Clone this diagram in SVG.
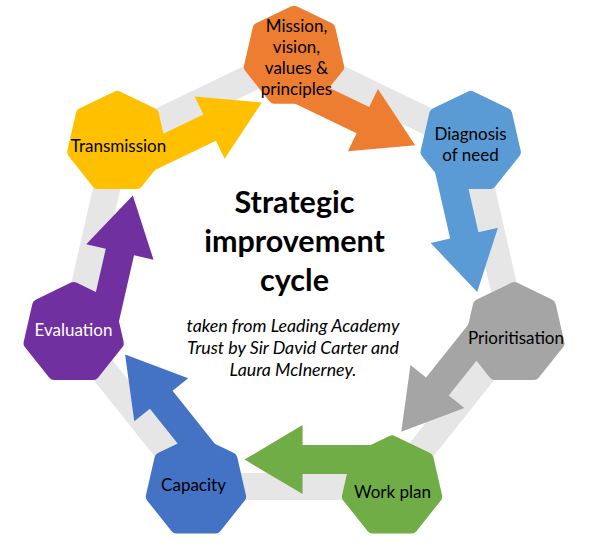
<svg xmlns="http://www.w3.org/2000/svg" xmlns:xlink="http://www.w3.org/1999/xlink" width="599" height="559" viewBox="0 0 599 559">
  <style>
    .lbl { font-family: Lato, "Liberation Sans", sans-serif; font-size: 17px; fill: #000; text-anchor: middle; }
    .title { font-family: Lato, "Liberation Sans", sans-serif; font-size: 30.5px; font-weight: bold; fill: #000; text-anchor: middle; }
    .note { font-family: Lato, "Liberation Sans", sans-serif; font-size: 17.8px; font-style: italic; fill: #000; text-anchor: middle; }
    .ring { fill: none; stroke: #E7E6E6; stroke-width: 27; stroke-linejoin: round; }
    .node { stroke-width: 12; stroke-linejoin: round; }
  </style>
  <defs>
    <polygon id="hept" points="0,-45.3 35.42,-28.24 44.16,10.08 19.65,40.81 -19.65,40.81 -44.16,10.08 -35.42,-28.24"/>
    <polygon id="arrow" points="0,12.5 89.5,12.5 89.5,-7.5 147.5,27 89.5,61.5 89.5,41.5 0,41.5" transform="translate(294,57) rotate(25.714)"/>
  </defs>
  <rect width="599" height="559" fill="#fff"/>
  <g id="connectors">
    <polygon class="ring" points="294,57 470.69,142.09 514.33,333.29 392.06,486.62 195.94,486.62 73.67,333.29 117.31,142.09"/>
    <use xlink:href="#arrow" href="#arrow" fill="#ED7D31"/>
    <use xlink:href="#arrow" href="#arrow" fill="#5B9BD5" transform="rotate(51.4286 294 283)"/>
    <use xlink:href="#arrow" href="#arrow" fill="#A5A5A5" transform="rotate(102.857 294 283)"/>
    <use xlink:href="#arrow" href="#arrow" fill="#70AD47" transform="rotate(154.286 294 283)"/>
    <use xlink:href="#arrow" href="#arrow" fill="#4472C4" transform="rotate(205.714 294 283)"/>
    <use xlink:href="#arrow" href="#arrow" fill="#7030A0" transform="rotate(257.143 294 283)"/>
    <use xlink:href="#arrow" href="#arrow" fill="#FFC000" transform="rotate(308.571 294 283)"/>
  </g>
  <g id="node-mission">
    <use xlink:href="#hept" href="#hept" class="node" fill="#ED7D31" stroke="#ED7D31" transform="translate(294,57)"/>
    <text class="lbl" x="296.5" y="31.5">Mission,</text>
    <text class="lbl" x="296.5" y="52.5">vision,</text>
    <text class="lbl" x="296.5" y="73.5">values &amp;</text>
    <text class="lbl" x="296.5" y="94.5">principles</text>
  </g>
  <g id="node-diagnosis">
    <use xlink:href="#hept" href="#hept" class="node" fill="#5B9BD5" stroke="#5B9BD5" transform="translate(470.69,142.09)"/>
    <text class="lbl" x="470.5" y="139.5">Diagnosis</text>
    <text class="lbl" x="470.5" y="160.5">of need</text>
  </g>
  <g id="node-prioritisation">
    <use xlink:href="#hept" href="#hept" class="node" fill="#A5A5A5" stroke="#A5A5A5" transform="translate(514.33,333.29)"/>
    <text class="lbl" x="516" y="344">Prioritisation</text>
  </g>
  <g id="node-workplan">
    <use xlink:href="#hept" href="#hept" class="node" fill="#70AD47" stroke="#70AD47" transform="translate(392.06,486.62)"/>
    <text class="lbl" x="392.5" y="498">Work plan</text>
  </g>
  <g id="node-capacity">
    <use xlink:href="#hept" href="#hept" class="node" fill="#4472C4" stroke="#4472C4" transform="translate(195.94,486.62)"/>
    <text class="lbl" x="193.5" y="490.5">Capacity</text>
  </g>
  <g id="node-evaluation">
    <use xlink:href="#hept" href="#hept" class="node" fill="#7030A0" stroke="#7030A0" transform="translate(73.67,333.29)"/>
    <text class="lbl" x="73.5" y="336" style="fill:#fff">Evaluation</text>
  </g>
  <g id="node-transmission">
    <use xlink:href="#hept" href="#hept" class="node" fill="#FFC000" stroke="#FFC000" transform="translate(117.31,142.09)"/>
    <text class="lbl" x="118.5" y="151.5">Transmission</text>
  </g>
  <g id="center-text">
    <text class="title" x="294.5" y="213.3">Strategic</text>
    <text class="title" x="294.5" y="251.7">improvement</text>
    <text class="title" x="294.5" y="290.7">cycle</text>
    <text class="note" x="293" y="331.5">taken from Leading Academy</text>
    <text class="note" x="293" y="354.3">Trust by Sir David Carter and</text>
    <text class="note" x="293" y="375.5">Laura McInerney.</text>
  </g>
</svg>
